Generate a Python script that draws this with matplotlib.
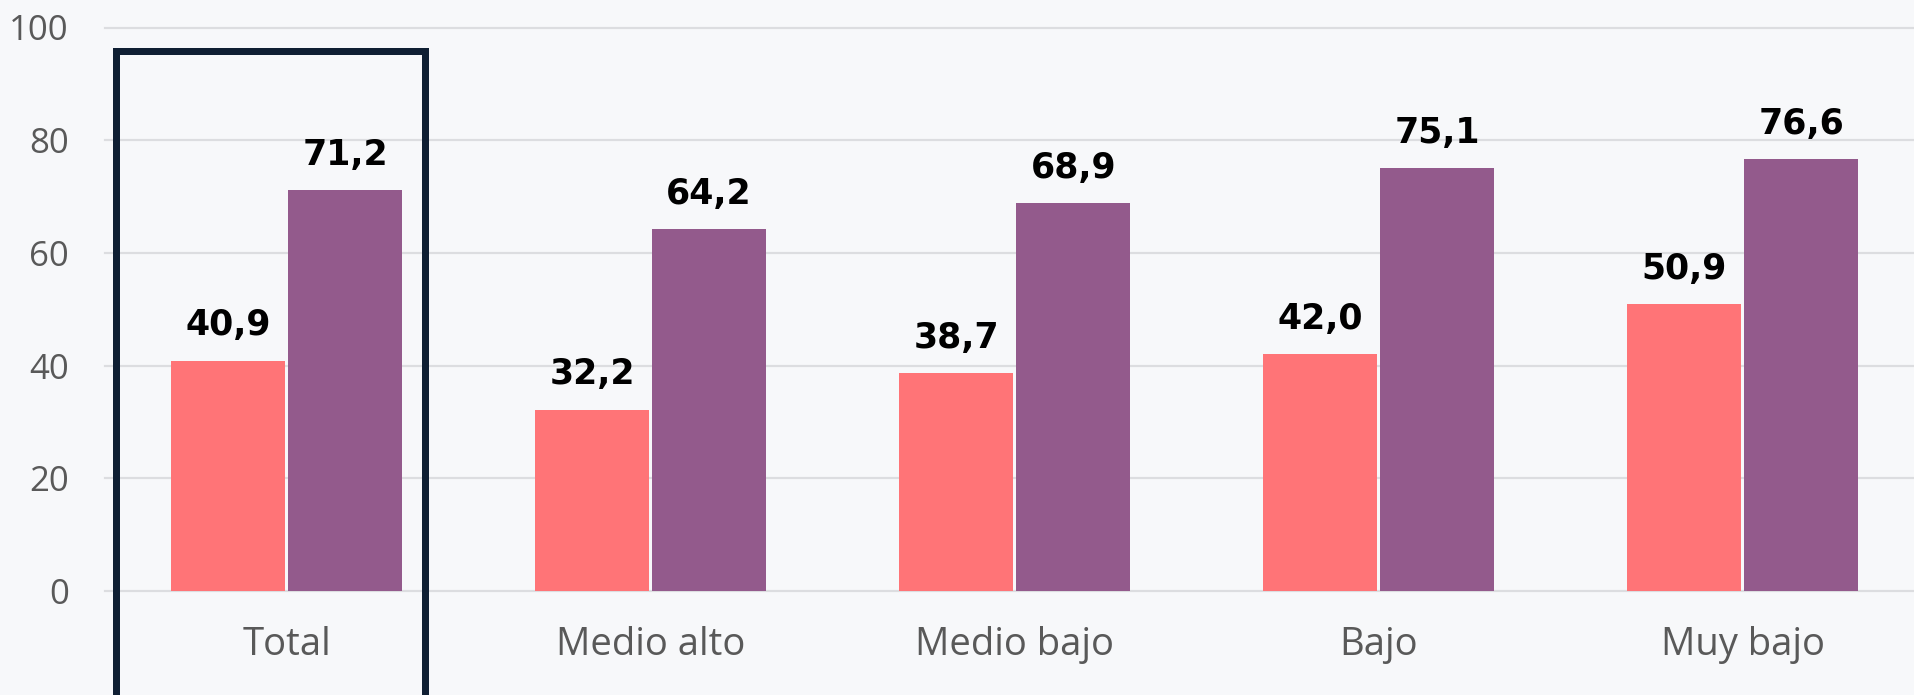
import matplotlib
matplotlib.use("Agg")
import matplotlib.pyplot as plt
from matplotlib.patches import Rectangle
import numpy as np

categories = ["Total", "Medio alto", "Medio bajo", "Bajo", "Muy bajo"]
serie_a = [40.9, 32.2, 38.7, 42.0, 50.9]
serie_b = [71.2, 64.2, 68.9, 75.1, 76.6]
yticks = [0, 20, 40, 60, 80, 100]

color_a = "#FF7477"
color_b = "#935A8C"
bg = "#F7F8FA"
grid_c = "#DCDDE0"
tick_c = "#595959"

W, H = 1914, 695
fig = plt.figure(figsize=(W / 100, H / 100), dpi=100, facecolor=bg)
ax = fig.add_axes([105 / W, 104 / H, 1 - 105 / W, 563.5 / H], facecolor=bg)

x = np.arange(len(categories))
bw = 0.313
gap = 0.0085
ax.bar(x - (bw + gap) / 2, serie_a, width=bw, color=color_a, zorder=3)
ax.bar(x + (bw + gap) / 2, serie_b, width=bw, color=color_b, zorder=3)

for xi, va, vb in zip(x, serie_a, serie_b):
    for xx, v in ((xi - (bw + gap) / 2, va), (xi + (bw + gap) / 2, vb)):
        ax.annotate(f"{v:.1f}".replace(".", ","), (xx, v), xytext=(0, 13),
                    textcoords="offset points", ha="center", va="bottom",
                    fontsize=25, fontweight="bold", color="black",
                    family="DejaVu Sans")

for t in yticks:
    ax.axhline(t, color=grid_c, lw=1.6, zorder=1, clip_on=False)

ax.set_xlim(-0.4985, 4.47)
ax.set_ylim(0, 100)
ax.set_yticks(yticks)
ax.set_xticks(x)
ax.set_xticklabels(categories)
for s in ax.spines.values():
    s.set_visible(False)
ax.tick_params(axis="x", length=0, pad=25, labelsize=27.5, labelcolor=tick_c)
ax.tick_params(axis="y", length=0, pad=26, labelsize=25, labelcolor=tick_c)
for lab in ax.get_xticklabels() + ax.get_yticklabels():
    lab.set_family("Open Sans")

# highlight frame around the first group
lw_px = 7
fig.patches.append(Rectangle(((112 + lw_px / 2) / W, -0.05),
                             (428 - 112 - lw_px) / W,
                             (H - 48 - lw_px / 2) / H + 0.05,
                             transform=fig.transFigure, fill=False,
                             edgecolor="#0F1F33", lw=lw_px * 0.72,
                             clip_on=False, zorder=5))

fig.savefig("out.png", dpi=100, facecolor=bg)
